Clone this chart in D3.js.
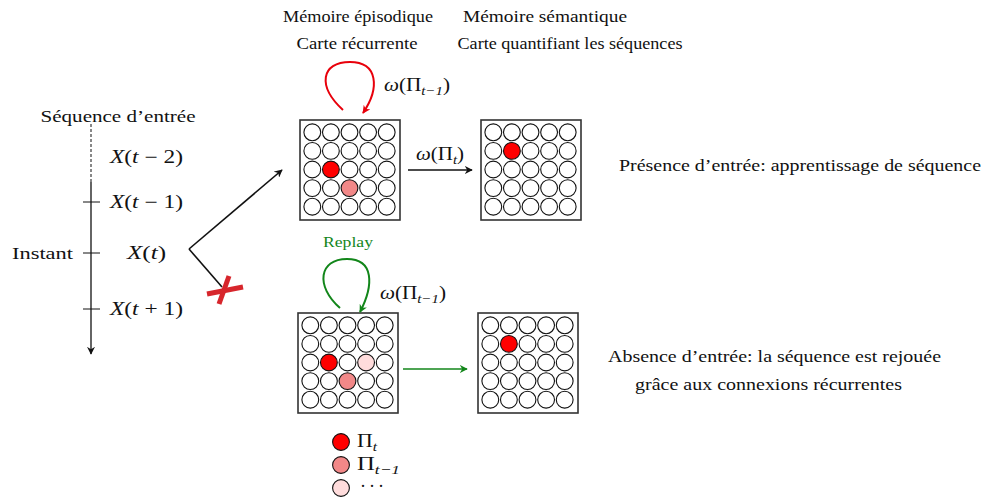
<!DOCTYPE html>
<html>
<head>
<meta charset="utf-8">
<script src="https://cdn.jsdelivr.net/npm/d3@7"></script>
<style>
  body { margin: 0; background: #fff; }
  svg text { font-family: "Liberation Serif", "Times New Roman", serif; fill: #111; }
</style>
</head>
<body>
<svg id="chart" width="982" height="498"></svg>
<script>
// --- data ---------------------------------------------------------------
var gridIndex = [0, 1, 2, 3, 4];

// active units per map: [row, col, level]
var topRecurrent    = [[2, 1, "t"], [3, 2, "t-1"]];
var topQuantized    = [[1, 1, "t"]];
var bottomRecurrent = [[2, 1, "t"], [3, 2, "t-1"], [2, 3, "older"]];
var bottomQuantized = [[1, 1, "t"]];

var levels      = ["t", "t-1", "older"];
var levelSubs   = ["t", "t\u22121", null];

var timeSteps   = [-2, -1, 0, 1];
var timeOffsets = [" \u2212 2", " \u2212 1", "", " + 1"];

var headerTop    = ["M\u00e9moire \u00e9pisodique", "M\u00e9moire s\u00e9mantique"];
var headerBottom = ["Carte r\u00e9currente", "Carte quantifiant les s\u00e9quences"];
var captions     = ["Pr\u00e9sence d\u2019entr\u00e9e: apprentissage de s\u00e9quence",
                    "Absence d\u2019entr\u00e9e: la s\u00e9quence est rejou\u00e9e",
                    "gr\u00e2ce aux connexions r\u00e9currentes"];

// --- setup --------------------------------------------------------------
var svg = d3.select("#chart");
var red = "#e8000b", green = "#12861a", xRed = "#d7262c";

var fill = d3.scaleOrdinal().domain(levels).range(["#ff0000", "#f28888", "#ffdcdc"]);
var cell = d3.scaleBand().domain(gridIndex).range([3, 96]);

var defs = svg.append("defs");
function marker(id, color) {
    defs.append("marker")
        .attr("id", id)
        .attr("viewBox", "0 0 10 10")
        .attr("refX", 9).attr("refY", 5)
        .attr("markerWidth", 8).attr("markerHeight", 8)
        .attr("markerUnits", "userSpaceOnUse")
        .attr("orient", "auto")
      .append("path")
        .attr("d", "M0,0 L10,5 L0,10 L3,5 z")
        .attr("fill", color);
}
marker("arrBlack", "#111");
marker("arrRed", red);
marker("arrGreen", green);

// plain label pinned to a measured width
function label(x, y, txt, size, width, anchor) {
    var t = svg.append("text")
        .attr("x", x).attr("y", y)
        .attr("font-size", size)
        .attr("text-anchor", anchor || "start")
        .text(txt);
    if (width) t.attr("textLength", width).attr("lengthAdjust", "spacingAndGlyphs");
    return t;
}

// math-ish text: parts = [[text, style]] with style "i" italic, "subi" italic subscript
function mathText(g, x, y, parts, opts) {
    opts = opts || {};
    var size = opts.size || 18;
    var t = g.append("text")
        .attr("x", x).attr("y", y)
        .attr("font-size", size)
        .attr("text-anchor", opts.anchor || "start");
    var shifted = false;
    parts.forEach(function(p) {
        var s = t.append("tspan").text(p[0]);
        if (p[1] === "i" || p[1] === "subi") s.attr("font-style", "italic");
        if (p[1] === "subi") {
            s.attr("font-size", size * 0.7).attr("dy", shifted ? 0 : 4);
            shifted = true;
        } else if (shifted) {
            s.attr("dy", -4);
            shifted = false;
        }
    });
    if (opts.width) t.attr("textLength", opts.width).attr("lengthAdjust", "spacingAndGlyphs");
    return t;
}

// --- maps ---------------------------------------------------------------
function drawMap(x0, y0, active) {
    var g = svg.append("g").attr("transform", "translate(" + x0 + "," + y0 + ")");
    g.append("rect")
        .attr("width", 100).attr("height", 100)
        .attr("fill", "#fff").attr("stroke", "#333").attr("stroke-width", 1.6);
    var lookup = {};
    active.forEach(function(a) { lookup[a[0] + "-" + a[1]] = a[2]; });
    var cells = [];
    gridIndex.forEach(function(r) {
        gridIndex.forEach(function(c) { cells.push({row: r, col: c, level: lookup[r + "-" + c]}); });
    });
    g.selectAll("circle").data(cells).join("circle")
        .attr("cx", function(d) { return cell(d.col) + cell.bandwidth() / 2; })
        .attr("cy", function(d) { return cell(d.row) + cell.bandwidth() / 2; })
        .attr("r", 8.4)
        .attr("fill", function(d) { return d.level ? fill(d.level) : "#fff"; })
        .attr("stroke", "#111").attr("stroke-width", 1.1);
}
drawMap(300, 120, topRecurrent);
drawMap(481, 120, topQuantized);
drawMap(298, 313, bottomRecurrent);
drawMap(478, 313, bottomQuantized);

// --- headers ------------------------------------------------------------
label(358, 22, headerTop[0], 16, 150, "middle");
label(545, 22, headerTop[1], 16, 164, "middle");
label(357, 49, headerBottom[0], 16, 121, "middle");
label(570, 49, headerBottom[1], 16, 225, "middle");

// --- loops and arrows ---------------------------------------------------
svg.append("path")
    .attr("d", "M343,110 C317,86 321,62 350,62 C378,62 380,88 363,113")
    .attr("fill", "none").attr("stroke", red).attr("stroke-width", 2)
    .attr("marker-end", "url(#arrRed)");
mathText(svg, 384, 91, [["\u03c9", "i"], ["(\u03a0"], ["t\u22121", "subi"], [")"]], {width: 66});

svg.append("path")
    .attr("d", "M340,308 C315,286 319,259 347,259 C374,259 374,285 360,312")
    .attr("fill", "none").attr("stroke", green).attr("stroke-width", 2)
    .attr("marker-end", "url(#arrGreen)");
label(348, 247, "Replay", 14, 50, "middle").style("fill", green);
mathText(svg, 380, 299, [["\u03c9", "i"], ["(\u03a0"], ["t\u22121", "subi"], [")"]], {width: 66});

svg.append("line").attr("x1", 408).attr("y1", 170).attr("x2", 472).attr("y2", 170)
    .attr("stroke", "#111").attr("stroke-width", 1.6).attr("marker-end", "url(#arrBlack)");
mathText(svg, 416, 160, [["\u03c9", "i"], ["(\u03a0"], ["t", "subi"], [")"]], {width: 48});

svg.append("line").attr("x1", 403).attr("y1", 369).attr("x2", 467).attr("y2", 369)
    .attr("stroke", green).attr("stroke-width", 1.6).attr("marker-end", "url(#arrGreen)");

// --- time line ----------------------------------------------------------
var ty = d3.scaleOrdinal().domain(timeSteps).range([157, 202, 253, 309]);
var axisX = 91;

svg.append("line").attr("x1", axisX).attr("y1", 124).attr("x2", axisX).attr("y2", 182)
    .attr("stroke", "#111").attr("stroke-width", 1).attr("stroke-dasharray", "3,2");
svg.append("line").attr("x1", axisX).attr("y1", 182).attr("x2", axisX).attr("y2", 354)
    .attr("stroke", "#111").attr("stroke-width", 1.3).attr("marker-end", "url(#arrBlack)");

svg.selectAll(".tick").data(timeSteps.slice(1)).join("line")
    .attr("class", "tick")
    .attr("x1", axisX - 8).attr("x2", axisX + 9)
    .attr("y1", function(d) { return ty(d); }).attr("y2", function(d) { return ty(d); })
    .attr("stroke", "#111").attr("stroke-width", 1);

timeSteps.forEach(function(s, i) {
    var centred = timeOffsets[i] === "";
    mathText(svg, centred ? 127 : 110, ty(s) + 6,
        [["X", "i"], ["("], ["t", "i"], [timeOffsets[i] + ")"]],
        {size: 18, width: centred ? 39 : 73});
});

label(118, 122, "S\u00e9quence d\u2019entr\u00e9e", 17, 155, "middle");
label(12, 259, "Instant", 17, 61);

// input fork
svg.append("line").attr("x1", 189).attr("y1", 249).attr("x2", 282).attr("y2", 170)
    .attr("stroke", "#111").attr("stroke-width", 1.6).attr("marker-end", "url(#arrBlack)");
svg.append("line").attr("x1", 189).attr("y1", 249).attr("x2", 222).attr("y2", 287)
    .attr("stroke", "#111").attr("stroke-width", 1.6);
svg.append("line").attr("x1", 207).attr("y1", 294).attr("x2", 243).attr("y2", 287)
    .attr("stroke", xRed).attr("stroke-width", 5);
svg.append("line").attr("x1", 229).attr("y1", 276).attr("x2", 219).attr("y2", 304)
    .attr("stroke", xRed).attr("stroke-width", 5);

// --- captions -----------------------------------------------------------
label(619, 171, captions[0], 17, 362);
label(608, 362, captions[1], 17, 333);
label(635, 390, captions[2], 17, 267);

// --- legend -------------------------------------------------------------
var ly = d3.scalePoint().domain(levels).range([442, 488]);
svg.selectAll(".leg").data(levels).join("circle")
    .attr("class", "leg")
    .attr("cx", 341).attr("cy", function(d) { return ly(d); })
    .attr("r", 8.4)
    .attr("fill", function(d) { return fill(d); })
    .attr("stroke", "#111").attr("stroke-width", 1.1);
levels.forEach(function(l, i) {
    if (levelSubs[i]) {
        mathText(svg, 357, ly(l) + 5, [["\u03a0"], [levelSubs[i], "subi"]],
            {size: 19, width: i === 0 ? 20 : 43});
    } else {
        svg.append("text").attr("x", 360).attr("y", ly(l) + 4).attr("font-size", 18)
            .attr("letter-spacing", 3).text("\u00b7\u00b7\u00b7");
    }
});
</script>
</body>
</html>
